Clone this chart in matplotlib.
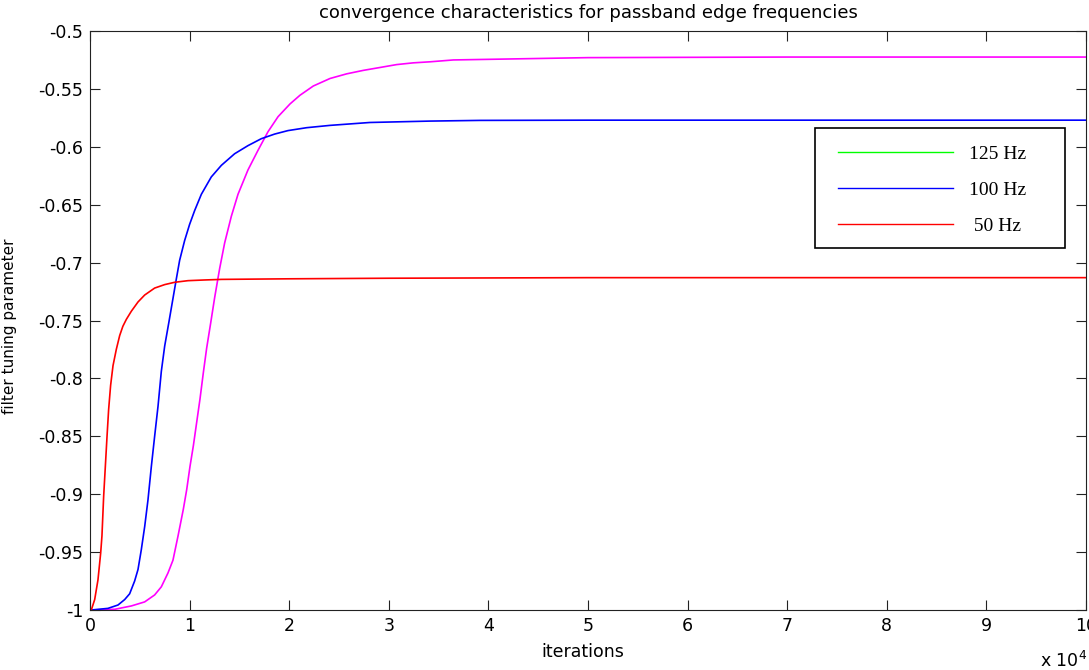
import matplotlib
matplotlib.use('Agg')
import matplotlib.pyplot as plt
from matplotlib.lines import Line2D
from matplotlib.patches import Rectangle

# ---- data (iterations in units of 1e4) ----
x_50hz = [0, 0.013, 0.047, 0.080, 0.107, 0.120, 0.137, 0.154, 0.171, 0.187, 0.207,
          0.231, 0.264, 0.298, 0.33, 0.365, 0.415, 0.482, 0.549, 0.649, 0.750,
          0.850, 0.984, 1.151, 1.32, 1.99, 3.0, 5.0, 10.0]
y_50hz = [-1.0, -1.0, -0.991, -0.974, -0.951, -0.936, -0.902, -0.876, -0.850, -0.827,
          -0.806, -0.789, -0.775, -0.763, -0.755, -0.749, -0.742, -0.734, -0.728,
          -0.722, -0.719, -0.717, -0.7156, -0.715, -0.7145, -0.714, -0.7135,
          -0.713, -0.713]

x_100hz = [0, 0.013, 0.18, 0.281, 0.348, 0.398, 0.448, 0.482, 0.515, 0.549, 0.582,
           0.616, 0.649, 0.683, 0.716, 0.750, 0.793, 0.833, 0.867, 0.900, 0.950,
           1.0, 1.051, 1.118, 1.218, 1.319, 1.452, 1.586, 1.720, 1.854, 1.988,
           2.175, 2.41, 2.81, 3.41, 3.916, 5.0, 10.0]
y_100hz = [-1.0, -1.0, -0.9986, -0.9957, -0.991, -0.986, -0.975, -0.965, -0.948,
           -0.928, -0.905, -0.876, -0.850, -0.824, -0.794, -0.772, -0.751, -0.731,
           -0.714, -0.698, -0.681, -0.667, -0.655, -0.641, -0.626, -0.616, -0.606,
           -0.599, -0.593, -0.589, -0.586, -0.5835, -0.5815, -0.579, -0.5778,
           -0.5772, -0.577, -0.577]

x_125hz = [0, 0.248, 0.415, 0.549, 0.649, 0.716, 0.783, 0.833, 0.884, 0.937, 0.971,
           1.004, 1.038, 1.071, 1.104, 1.138, 1.171, 1.212, 1.252, 1.302, 1.352,
           1.419, 1.486, 1.586, 1.687, 1.787, 1.888, 2.008, 2.108, 2.242, 2.41,
           2.577, 2.744, 2.912, 3.079, 3.246, 3.414, 3.648, 3.916, 5.0, 7.0, 10.0]
y_125hz = [-1.0, -0.9994, -0.9965, -0.993, -0.987, -0.980, -0.968, -0.957, -0.936,
           -0.913, -0.896, -0.876, -0.858, -0.838, -0.818, -0.795, -0.774, -0.752,
           -0.730, -0.705, -0.683, -0.660, -0.641, -0.620, -0.603, -0.587, -0.574,
           -0.563, -0.5555, -0.5475, -0.541, -0.537, -0.534, -0.5315, -0.529,
           -0.5275, -0.5266, -0.525, -0.5246, -0.523, -0.5225, -0.5225]

x_ticks = list(range(0, 11))
y_ticks = [-1.0, -0.95, -0.9, -0.85, -0.8, -0.75, -0.7, -0.65, -0.6, -0.55, -0.5]
y_tick_labels = ['-1', '-0.95', '-0.9', '-0.85', '-0.8', '-0.75', '-0.7', '-0.65',
                 '-0.6', '-0.55', '-0.5']

legend_labels = ['125 Hz', '100 Hz', ' 50 Hz']
legend_colors = ['#00ff00', '#0000ff', '#ff0000']

# ---- figure ----
plt.rcParams['axes.unicode_minus'] = False
plt.rcParams['font.family'] = 'DejaVu Sans'

W, H = 1089, 670
fig = plt.figure(figsize=(W / 100, H / 100), dpi=100)
ax = fig.add_axes([90 / W, 60 / H, 996 / W, 579 / H])


def ax_x(px):
    return (px - 90) / 996


def ax_y(py):
    return (610 - py) / 579


lw = 1.2
ax.plot(x_125hz, y_125hz, color='#ff00ff', lw=lw)
ax.plot(x_100hz, y_100hz, color='#0000ff', lw=lw)
ax.plot(x_50hz, y_50hz, color='#ff0000', lw=lw)

ax.set_xlim(0, 10)
ax.set_ylim(-1, -0.5)
ax.set_xticks(x_ticks)
ax.set_xticklabels([str(t) for t in x_ticks])
ax.set_yticks(y_ticks)
ax.set_yticklabels(y_tick_labels)

ax.tick_params(direction='in', length=7, width=0.8, top=True, right=True,
               labelsize=12.5, pad=5, colors='#222222', labelcolor='black')
for s in ax.spines.values():
    s.set_linewidth(0.8)
    s.set_color('#222222')

ax.set_title('convergence characteristics for passband edge frequencies',
             fontsize=13, pad=9.5)
ax.set_xlabel('iterations', fontsize=12.5)
ax.xaxis.set_label_coords(ax_x(583), -0.057)
ax.set_ylabel('filter tuning parameter', fontsize=11)
ax.yaxis.set_label_coords(ax_x(17), 0.49)

fig.text(1087 / W, 1 - 667 / H, r'x 10$^{4}$', ha='right', va='baseline',
         fontsize=12.5)

# legend box
box = Rectangle((ax_x(815), ax_y(248)), 250 / 996, 120 / 579,
                transform=ax.transAxes, facecolor='white', edgecolor='black',
                lw=1.2, zorder=4)
ax.add_patch(box)

handles = [Line2D([], [], color=c, lw=1.0) for c in legend_colors]
leg = ax.legend(handles, legend_labels, loc='upper left',
                bbox_to_anchor=(ax_x(838), ax_y(145)),
                borderaxespad=0, borderpad=0, frameon=False,
                labelspacing=0.96, handlelength=5.9, handletextpad=0.85,
                prop={'family': 'Liberation Serif', 'size': 14})
leg.set_zorder(5)

fig.savefig('out.png', dpi=100)
